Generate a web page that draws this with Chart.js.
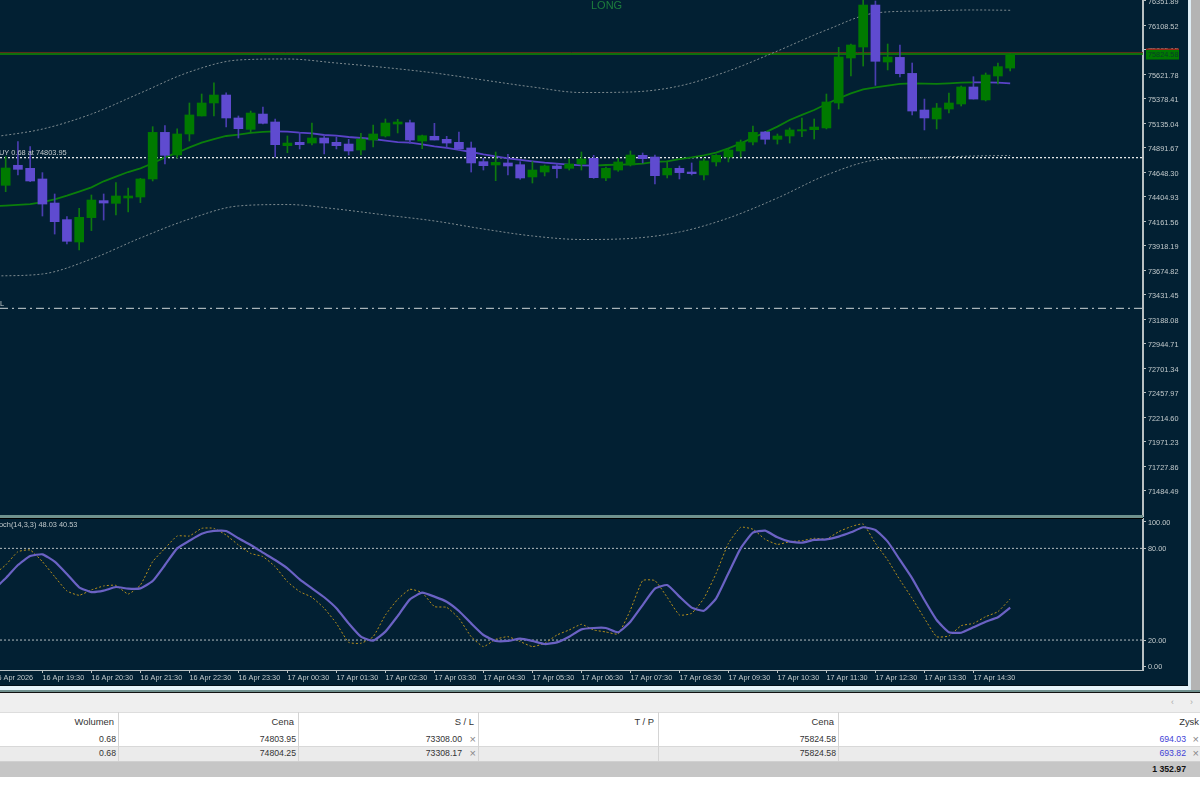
<!DOCTYPE html>
<html><head><meta charset="utf-8">
<script src="https://cdn.jsdelivr.net/npm/chart.js@4"></script>
<style>
html,body{margin:0;padding:0;width:1200px;height:792px;overflow:hidden;background:#fff;font-family:"Liberation Sans",Arial,sans-serif}
#term{position:absolute;left:0;top:0;width:1188px;height:686px;background:#022033}
canvas{position:absolute;left:0}
.b{position:absolute}
.t{position:absolute;font-size:8.7px;line-height:14px;color:#333;white-space:nowrap;text-align:right}
</style></head><body>
<div id="term"></div>
<canvas id="priceCanvas" width="1188" height="517" style="top:0"></canvas>
<canvas id="stochCanvas" width="1188" height="168" style="top:518px"></canvas>
<div class="b" style="left:0;top:515px;width:1143px;height:3px;background:#6f918d"></div>
<div class="b" style="left:0;top:518px;width:1143px;height:1px;background:#000"></div>
<div class="b" style="left:0;top:685px;width:1188px;height:1px;background:#01101a"></div>
<div class="b" style="left:0;top:686px;width:1190px;height:5px;background:#e6f3fa"></div>
<div class="b" style="left:1188px;top:0;width:3px;height:690px;background:#dfeef6"></div>
<div class="b" style="left:1191px;top:0;width:9px;height:692px;background:#b4b4b4"></div>
<div class="b" style="left:0;top:690px;width:1200px;height:2px;background:#6f8f8d"></div>
<div class="b" style="left:0;top:692px;width:1200px;height:1px;background:#111"></div>
<div class="b" style="left:0;top:693px;width:1200px;height:19px;background:#efefef"></div>
<div class="t" style="left:1171px;top:695px;color:#aaa">‹</div>
<div class="t" style="left:1190px;top:695px;color:#aaa">›</div>
<div class="b" style="left:0;top:712px;width:1200px;height:20px;background:#fff;border-top:1px solid #ddd;box-sizing:border-box"></div>
<div class="b" style="left:0;top:732px;width:1200px;height:14px;background:#fff"></div>
<div class="b" style="left:0;top:746px;width:1200px;height:15px;background:#ebebeb;border-top:1px solid #d8d8d8;box-sizing:border-box"></div>
<div class="b" style="left:0;top:761px;width:1200px;height:16px;background:#c6c6c6;border-top:1px solid #d0d0d0;box-sizing:border-box"></div>
<div id="tbl"></div>

<script>
const candleOpen=[74520,74719,74689,74583,74344,74179,73957,74199,74368,74341,74394,74404,74583,75046,74821,75030,75209,75338,75417,75189,75076,75228,75149,74914,74947,74940,74990,74947,74930,74871,74970,75010,75129,75142,74960,75007,74977,74947,74891,74755,74722,74742,74725,74603,74652,74712,74689,74732,74788,74593,74672,74722,74818,74801,74623,74689,74652,74623,74752,74801,74861,74950,75050,74977,75010,75060,75073,75090,75338,75785,75894,76311,75745,75791,75632,75268,75179,75278,75328,75497,75368,75606,75685];
const candleHigh=[74805,74954,74904,74646,74434,74209,74291,74424,74434,74546,74493,74589,75103,75113,75080,75338,75427,75537,75440,75209,75258,75298,75179,75010,75046,75139,75020,75000,74977,75036,75119,75179,75176,75169,75020,75136,75007,75050,74950,74788,74851,74828,74755,74755,74722,74732,74781,74851,74818,74702,74788,74861,74841,74821,74762,74712,74742,74788,74825,74878,74970,75109,75056,75030,75090,75189,75179,75427,75891,75924,76381,76351,75924,75914,75735,75377,75334,75437,75507,75599,75636,75735,75831];
const candleLow=[74457,74623,74556,74215,74036,73937,73877,74070,74175,74225,74255,74348,74563,74732,74791,74960,75209,75209,75099,74990,75040,75129,74801,74844,74881,74921,74831,74881,74821,74821,74901,75000,75040,74937,74884,74970,74897,74871,74652,74672,74566,74623,74580,74543,74613,74593,74672,74672,74589,74566,74659,74712,74742,74533,74593,74583,74623,74573,74712,74752,74801,74921,74930,74930,74940,75003,74980,75080,75278,75606,75705,75513,75666,75596,75219,75070,75080,75238,75308,75377,75358,75527,75656];
const candleClose=[74692,74679,74563,74334,74159,73964,74202,74374,74344,74414,74414,74583,75046,74818,75030,75219,75338,75417,75189,75083,75238,75136,74924,74940,74924,74990,74940,74914,74861,74980,75030,75139,75149,74970,75013,74970,74940,74884,74742,74715,74748,74712,74593,74672,74712,74686,74732,74781,74596,74689,74752,74821,74785,74616,74689,74646,74636,74762,74818,74871,74950,75046,74977,75010,75070,75073,75099,75348,75795,75914,76311,75752,75795,75629,75258,75189,75288,75338,75497,75377,75616,75699,75824.58];

// moving average, starting one candle before the first visible candle
const movingAverage=[74312,74318,74325,74334,74354,74381,74417,74457,74500,74560,74606,74652,74689,74739,74798,74844,74897,74944,74980,75010,75023,75040,75050,75056,75053,75043,75036,75020,75013,75000,74990,74980,74964,74950,74944,74927,74907,74891,74871,74851,74828,74808,74788,74772,74758,74745,74735,74725,74719,74715,74722,74725,74729,74735,74752,74758,74781,74798,74818,74844,74887,74937,74993,75046,75103,75169,75219,75268,75328,75384,75434,75474,75493,75510,75527,75533,75530,75527,75533,75540,75543,75543,75540,75533];
const maFallingRuns=[[22,48],[79,82]];

// envelope bands, read at these candle indices
const bandIndex=[-1,3,7,11,15,19,23,27,31,35,39,43,47,51,55,59,63,67,71,75,79,82];
const upperBand=[75000,75079,75228,75437,75646,75765,75775,75735,75690,75636,75566,75497,75442,75447,75507,75656,75854,76063,76232,76252,76262,76259];
const lowerBand=[73619,73639,73788,73997,74185,74315,74329,74285,74225,74166,74086,74017,73982,73992,74056,74195,74394,74622,74772,74796,74811,74816];

const bidPrice=75824.58, askPrice=75840, entryLevel=74795, stopLevel=73298;
const priceTicks=[76351.89,76108.52,75865.15,75621.78,75378.41,75135.04,74891.67,74648.30,74404.93,74161.56,73918.19,73674.82,73431.45,73188.08,72944.71,72701.34,72457.97,72214.60,71971.23,71727.86,71484.49];

// stochastic, starting one candle before the first visible candle
const stochSignal=[52.8,60.4,69.1,75.0,76.1,71.3,63.2,54.5,51.4,52.3,54.7,53.6,53.8,58.6,69.1,80.0,85.0,89.6,91.4,91.4,86.6,82.2,77.2,72.4,66.9,59.7,53.8,48.0,40.8,30.9,22.2,19.6,25.5,35.7,46.6,51.0,48.4,45.1,39.0,30.9,23.3,19.4,19.4,20.9,19.4,17.4,18.5,22.2,27.0,27.9,27.9,25.1,32.0,42.9,53.6,56.0,48.4,41.2,39.2,47.3,63.7,80.0,90.3,91.6,87.2,84.4,83.7,85.5,85.9,87.7,90.5,93.8,92.0,84.4,72.4,60.4,46.2,33.1,25.1,24.8,28.3,32.0,34.9,41.2];
const stochMain=[62.6,69.1,77.8,78.9,71.3,61.5,52.1,49.3,52.8,55.4,55.8,50.1,56.0,71.3,80.0,88.1,88.1,93.1,93.1,88.7,82.2,76.7,74.6,68.0,58.2,51.7,48.0,40.8,30.9,18.5,17.9,22.2,36.4,46.6,53.2,51.0,41.9,41.4,34.2,22.2,15.7,20.5,22.2,19.0,15.7,17.9,23.3,26.6,30.3,26.6,25.3,24.0,39.7,58.9,58.9,48.0,36.4,37.5,47.3,63.7,83.3,93.8,92.5,85.9,82.6,84.4,85.0,86.6,86.1,90.9,94.2,95.9,83.3,72.4,59.3,47.3,34.2,22.2,22.7,29.4,30.9,35.3,38.6,46.9];
const stochLevels=[80,20];
const stochTicks=[97.4,80,20,3.0];
const stochTickLabels=["100.00","80.00","20.00","0.00"];

const timeTicks=[-1,3,7,11,15,19,23,27,31,35,39,43,47,51,55,59,63,67,71,75,79];
const timeLabels=["16 Apr 2026","16 Apr 19:30","16 Apr 20:30","16 Apr 21:30","16 Apr 22:30","16 Apr 23:30","17 Apr 00:30","17 Apr 01:30","17 Apr 02:30","17 Apr 03:30","17 Apr 04:30","17 Apr 05:30","17 Apr 06:30","17 Apr 07:30","17 Apr 08:30","17 Apr 09:30","17 Apr 10:30","17 Apr 11:30","17 Apr 12:30","17 Apr 13:30","17 Apr 14:30"];

const FONT='"Liberation Sans",Arial,sans-serif', TXT='#c3cacc', AXIS='#b9c0c2';
const GREEN='#007a00', PURPLE='#5f4bd0', WICKG='#0f7a0f', WICKP='#4a3db0';
const xMin=-0.4627, xMax=92.843;
const isUp=i=>candleClose[i]>=candleOpen[i];
const hl=(v,c,dash,w)=>({type:'line',data:[{x:xMin,y:v},{x:xMax,y:v}],borderColor:c,borderWidth:w||1,borderDash:dash||[],pointRadius:0,order:6});
const noPad=s=>{s.paddingTop=0;s.paddingBottom=0;s.paddingLeft=0;s.paddingRight=0;};

const overlayLabels={id:'overlayLabels',afterDraw(c){
  const g=c.ctx,y=c.scales.y;g.save();g.textBaseline='middle';
  g.font='7.4px '+FONT;g.fillStyle=TXT;
  g.fillText('BUY 0.68 at 74803.95',-6,152.5);
  g.fillText('SL',-5,303.5);
  g.font='11px '+FONT;g.fillStyle='#1d7d3d';g.fillText('LONG',591,6);
  const py=y.getPixelForValue(bidPrice);
  g.fillStyle='#9c2a1c';g.fillRect(1146,py-5.5,33,1.5);
  g.fillStyle=GREEN;g.fillRect(1146,py-4,33,9.5);
  g.font='7.3px '+FONT;g.fillStyle='#0a3a2a';g.fillText(bidPrice.toFixed(2),1148,py+1);
  g.restore();
}};

new Chart(document.getElementById('priceCanvas'),{
  type:'bar',
  data:{datasets:[
    {label:'bodies',data:candleOpen.map((o,i)=>({x:i,y:[o,candleClose[i]]})),grouped:false,barThickness:9,order:1,
     backgroundColor:c=>isUp(c.dataIndex)?GREEN:PURPLE,borderWidth:0},
    {label:'wicks',data:candleLow.map((l,i)=>({x:i,y:[l,candleHigh[i]]})),grouped:false,barThickness:1,order:2,
     backgroundColor:c=>isUp(c.dataIndex)?WICKG:WICKP,borderWidth:0},
    {type:'line',label:'ma',data:movingAverage.map((v,i)=>({x:i-1,y:v})),borderColor:GREEN,borderWidth:1.8,pointRadius:0,order:3,
     segment:{borderColor:c=>{const k=c.p0DataIndex-1;return maFallingRuns.some(r=>k>=r[0]&&k<r[1])?'#5a43c8':'#0b7f0b';}}},
    {type:'line',label:'upper',data:bandIndex.map((k,i)=>({x:k,y:upperBand[i]})),borderColor:'#7e8a8f',borderWidth:1,borderDash:[2,2],pointRadius:0,cubicInterpolationMode:'monotone',order:5},
    {type:'line',label:'lower',data:bandIndex.map((k,i)=>({x:k,y:lowerBand[i]})),borderColor:'#7e8a8f',borderWidth:1,borderDash:[2,2],pointRadius:0,cubicInterpolationMode:'monotone',order:5},
    hl(bidPrice,'#158a00',[],1.6),
    hl(askPrice,'#6a3018',[],0.9),
    hl(entryLevel,'#e6e9ea',[2,2],1.3),
    hl(stopLevel,'#cfd5d7',[8,4,2,4],1)
  ]},
  options:{responsive:false,devicePixelRatio:1,animation:false,
    plugins:{legend:{display:false},tooltip:{enabled:false}},
    layout:{padding:0},
    scales:{
      x:{type:'linear',display:false,offset:false,min:xMin,max:xMax},
      y:{type:'linear',position:'right',min:71225,max:76361,
        border:{color:AXIS,width:2},
        grid:{drawOnChartArea:false,tickLength:3,color:AXIS},
        afterBuildTicks:s=>{s.ticks=priceTicks.map(v=>({value:v}));},
        afterFit:s=>{s.width=45;noPad(s);},
        ticks:{autoSkip:false,padding:2,labelOffset:1.5,color:TXT,font:{family:FONT,size:7.3},callback:v=>v.toFixed(2)}}
    }},
  plugins:[overlayLabels]
});

const stochHeader={id:'stochHeader',afterDraw(c){
  const g=c.ctx;g.save();g.textBaseline='middle';g.font='7.4px '+FONT;g.fillStyle=TXT;
  g.fillText('Stoch(14,3,3) 48.03 40.53',-8,7);g.restore();
}};
new Chart(document.getElementById('stochCanvas'),{
  type:'line',
  data:{datasets:[
    {label:'signal',data:stochSignal.map((v,i)=>({x:i-1,y:v})),borderColor:'#6b62c4',borderWidth:2.2,pointRadius:0,tension:0.15,order:1},
    {label:'main',data:stochMain.map((v,i)=>({x:i-1,y:v})),borderColor:'#b8901c',borderWidth:1,borderDash:[2,2],pointRadius:0,tension:0.15,order:2},
    ...stochLevels.map(v=>({...hl(v,'#b4bcc0',[2,2],1),order:3}))
  ]},
  options:{responsive:false,devicePixelRatio:1,animation:false,
    plugins:{legend:{display:false},tooltip:{enabled:false}},
    layout:{padding:0},
    scales:{
      x:{type:'linear',position:'bottom',offset:false,min:xMin,max:xMax,
        border:{color:AXIS,width:1},
        grid:{drawOnChartArea:false,tickLength:3,color:AXIS},
        afterBuildTicks:s=>{s.ticks=timeTicks.map(v=>({value:v}));},
        afterFit:s=>{s.height=16;noPad(s);},
        ticks:{autoSkip:false,maxRotation:0,align:'start',padding:1,color:TXT,font:{family:FONT,size:7.3},callback:(v,i)=>timeLabels[i]}},
      y:{type:'linear',position:'right',min:0.4,max:99.87,
        border:{color:AXIS,width:2},
        grid:{drawOnChartArea:false,tickLength:3,color:AXIS},
        afterBuildTicks:s=>{s.ticks=stochTicks.map(v=>({value:v}));},
        afterFit:s=>{s.width=45;noPad(s);},
        ticks:{autoSkip:false,padding:2,labelOffset:1,color:TXT,font:{family:FONT,size:7.3},callback:(v,i)=>stochTickLabels[i]}}
    }},
  plugins:[stochHeader]
});

// position table
const tableCells=[
 ["Wolumen",114,715,"#333",0,9.4],["Cena",294,715,"#333",0,9.4],["S / L",474,715,"#333",0,9.4],["T / P",654,715,"#333",0,9.4],["Cena",834,715,"#333",0,9.4],["Zysk",1199,715,"#333",0,9.4],
 ["0.68",116,732,"#333",0,8.7],["74803.95",296,732,"#333",0,8.7],["73308.00",462,732,"#333",0,8.7],["×",476,732,"#888",0,11],["75824.58",836,732,"#333",0,8.7],["694.03",1186,732,"#3f3fd6",0,8.7],["×",1199,732,"#888",0,11],
 ["0.68",116,746,"#333",0,8.7],["74804.25",296,746,"#333",0,8.7],["73308.17",462,746,"#333",0,8.7],["×",476,746,"#888",0,11],["75824.58",836,746,"#333",0,8.7],["693.82",1186,746,"#3f3fd6",0,8.7],["×",1199,746,"#888",0,11],
 ["1 352.97",1186,762,"#111",1,8.7]];
const tableSeps=[118,298,478,658,838];
const tbl=document.getElementById('tbl');
tableSeps.forEach(x=>{const d=document.createElement('div');d.className='b';d.style.cssText=`left:${x}px;top:712px;width:1px;height:49px;background:#d4d4d4`;tbl.appendChild(d);});
tableCells.forEach(([s,r,t,c,b,f])=>{const d=document.createElement('div');d.className='t';d.textContent=s;d.style.cssText=`right:${1200-r}px;top:${t}px;color:${c};font-size:${f}px;${b?'font-weight:bold;':''}`;tbl.appendChild(d);});
</script>
</body></html>
